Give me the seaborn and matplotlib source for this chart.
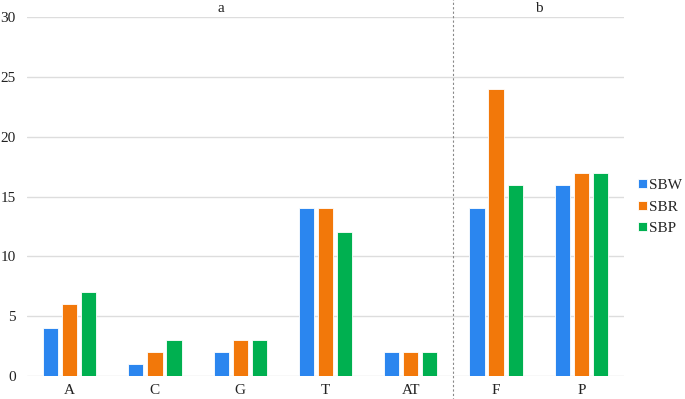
import matplotlib
matplotlib.use("Agg")
import matplotlib.pyplot as plt
import seaborn as sns
import pandas as pd

categories = ["A", "C", "G", "T", "AT", "F", "P"]
series = ["SBW", "SBR", "SBP"]
sbw = [4, 1, 2, 14, 2, 14, 16]
sbr = [6, 2, 3, 14, 2, 24, 17]
sbp = [7, 3, 3, 12, 2, 16, 17]
group_labels = ["a", "b"]
y_ticks = [0, 5, 10, 15, 20, 25, 30]

colors = ["#2B86EF", "#F2780A", "#00B050"]

rows = []
for name, vals in zip(series, [sbw, sbr, sbp]):
    for c, v in zip(categories, vals):
        rows.append({"cat": c, "series": name, "value": v})
df = pd.DataFrame(rows)

sns.set_theme(style="white")
plt.rcParams["font.family"] = ["Liberation Serif", "DejaVu Serif"]

fig = plt.figure(figsize=(6.85, 3.99), dpi=100)
ax = fig.add_axes([0.0394, 0.0576, 0.8716, 0.8998])

sns.barplot(data=df, x="cat", y="value", hue="series", order=categories,
            hue_order=series, palette=colors, saturation=1, width=0.67, gap=0.2,
            edgecolor="#ffffff", linewidth=0.6, ax=ax, legend=True)

ax.set_xlim(-0.5, 6.5)
ax.set_ylim(0, 30)
ax.set_yticks(y_ticks)
ax.set_yticklabels([str(t) for t in y_ticks])
ax.set_xlabel("")
ax.set_ylabel("")
ax.yaxis.grid(True, color="#DDDDDD", linewidth=1.0)
ax.set_axisbelow(True)
for s in ax.spines.values():
    s.set_visible(False)
ax.tick_params(axis="both", length=0, labelsize=11, colors="#222222")
ax.tick_params(axis="y", pad=8)
ax.tick_params(axis="x", pad=6)

ax.axvline(4.5, ymin=-0.07, ymax=1.06, color="#888888", linestyle=(0, (2, 2)),
           linewidth=0.8, clip_on=False)

ax.text(1.77, 30.7, group_labels[0], ha="center", va="center", fontsize=11,
        color="#222222", clip_on=False)
ax.text(5.5, 30.7, group_labels[1], ha="center", va="center", fontsize=11,
        color="#222222", clip_on=False)

handles, labels = ax.get_legend_handles_labels()
ax.legend(handles, labels, loc="center left", bbox_to_anchor=(0.932, 0.481),
          bbox_transform=fig.transFigure, frameon=False, fontsize=11,
          handlelength=0.55, handleheight=0.55, handletextpad=0.15,
          labelspacing=0.55, borderaxespad=0, borderpad=0)

fig.savefig("out.png", dpi=100)
